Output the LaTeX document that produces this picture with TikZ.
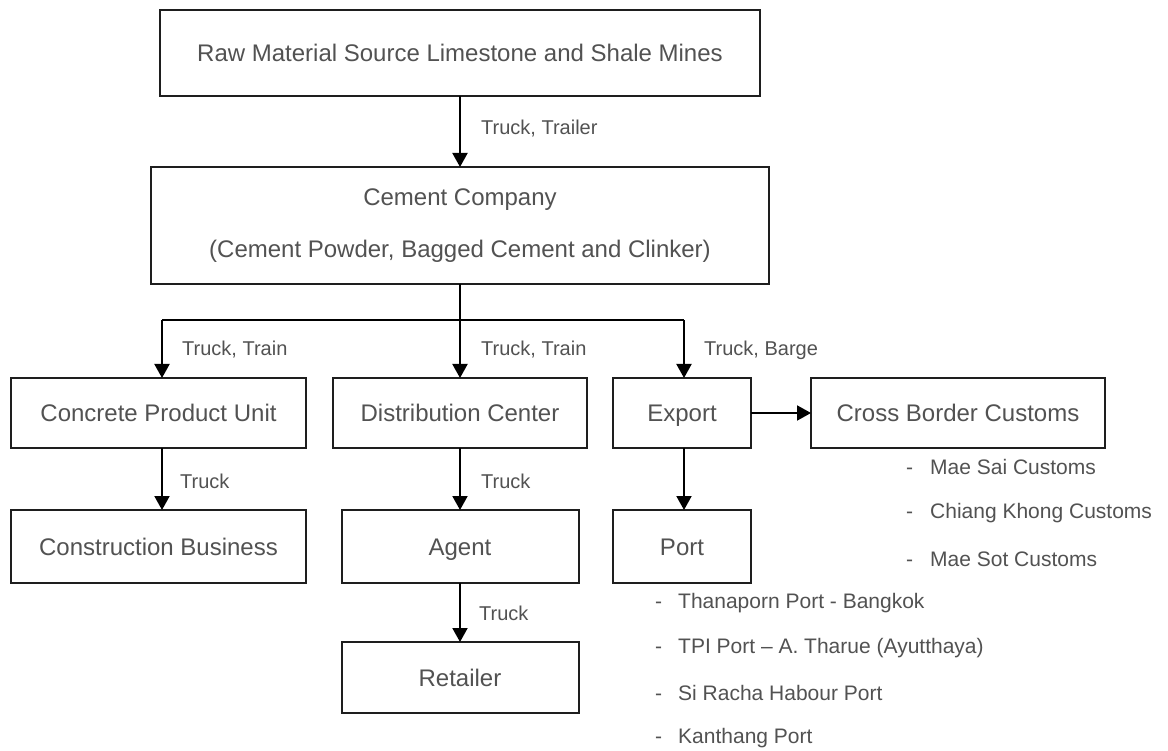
\documentclass[tikz,border=0pt]{standalone}
\usepackage{fontspec}
\setmainfont{Liberation Sans}
\usetikzlibrary{arrows.meta}
\definecolor{ink}{RGB}{82,82,82}
\definecolor{frame}{RGB}{30,30,30}
\begin{document}
\begin{tikzpicture}[x=1pt,y=-1pt,
  box/.style={draw=frame, line width=2pt, inner sep=0pt, outer sep=0pt,
    text=ink, font=\fontsize{24}{28}\selectfont, align=center},
  oneline/.style={text height=17pt, text depth=0pt},
  arr/.style={line width=2pt, -{Triangle[width=15pt,length=14pt]}},
  link/.style={line width=2pt},
  via/.style={anchor=west, inner sep=0pt, text=ink, font=\fontsize{20}{24}\selectfont},
  item/.style={anchor=west, inner sep=0pt, text=ink, font=\fontsize{21}{25}\selectfont}]
\useasboundingbox[fill=white] (0,0) rectangle (1168,751);

% boxes
\node[box, oneline, minimum width=600pt, minimum height=86pt] (mines) at (460,53)
  {Raw Material Source Limestone and Shale Mines};
\node[box, minimum width=618pt, minimum height=117pt,
  font=\fontsize{24}{52}\selectfont] (cement) at (460,225.5)
  {Cement Company\\(Cement Powder, Bagged Cement and Clinker)};

\node[box, oneline, minimum width=295pt, minimum height=70pt] (cpu) at (158.5,413) {Concrete Product Unit};
\node[box, oneline, minimum width=254pt, minimum height=70pt] (dc) at (460,413) {Distribution Center};
\node[box, oneline, minimum width=138pt, minimum height=70pt] (export) at (682,413) {Export};
\node[box, oneline, minimum width=294pt, minimum height=70pt] (cbc) at (958,413) {Cross Border Customs};

\node[box, oneline, minimum width=295pt, minimum height=73pt] (cb) at (158.5,546.5) {Construction Business};
\node[box, oneline, minimum width=237pt, minimum height=73pt] (agent) at (460,546.5) {Agent};
\node[box, oneline, minimum width=138pt, minimum height=73pt] (port) at (682,546.5) {Port};

\node[box, oneline, minimum width=237pt, minimum height=71pt] (retailer) at (460,677.5) {Retailer};

% branch points below the cement company
\coordinate (bL) at (162,320);
\coordinate (bM) at (460,320);
\coordinate (bR) at (684,320);

% connectors
\draw[arr] (mines) -- (cement);
\draw[link] (cement.south) -- (bM);
\draw[link] (bL) -- (bR);
\draw[arr] (bL) -- (cpu.north -| bL);
\draw[arr] (bM) -- (dc.north);
\draw[arr] (bR) -- (export.north -| bR);
\draw[arr] (cpu.south -| bL) -- (cb.north -| bL);
\draw[arr] (dc) -- (agent);
\draw[arr] (agent) -- (retailer);
\draw[arr] (export.south -| bR) -- (port.north -| bR);
\draw[arr] (export.east) -- (cbc.west);

% transport modes
\node[via] (t1) at (481,129) {Truck, Trailer};
\node[via] (t2) at (182,350) {Truck, Train};
\node[via] (t3) at (481,350) {Truck, Train};
\node[via] (t4) at (704,350) {Truck, Barge};
\node[via] (t5) at (180,481) {Truck};
\node[via] (t6) at (481,481) {Truck};
\node[via] (t7) at (479,613) {Truck};

% customs checkpoints
\node[item] (c1) at (906,467) {\makebox[24pt][l]{-}Mae Sai Customs};
\node[item] (c2) at (906,513) {\makebox[24pt][l]{-}Chiang Khong Customs};
\node[item] (c3) at (906,559) {\makebox[24pt][l]{-}Mae Sot Customs};

% ports
\node[item] (p1) at (655,603) {\makebox[23pt][l]{-}Thanaporn Port - Bangkok};
\node[item] (p2) at (655,648) {\makebox[23pt][l]{-}TPI Port – A. Tharue (Ayutthaya)};
\node[item] (p3) at (655,693) {\makebox[23pt][l]{-}Si Racha Habour Port};
\node[item] (p4) at (655,738) {\makebox[23pt][l]{-}Kanthang Port};
\end{tikzpicture}
\end{document}
